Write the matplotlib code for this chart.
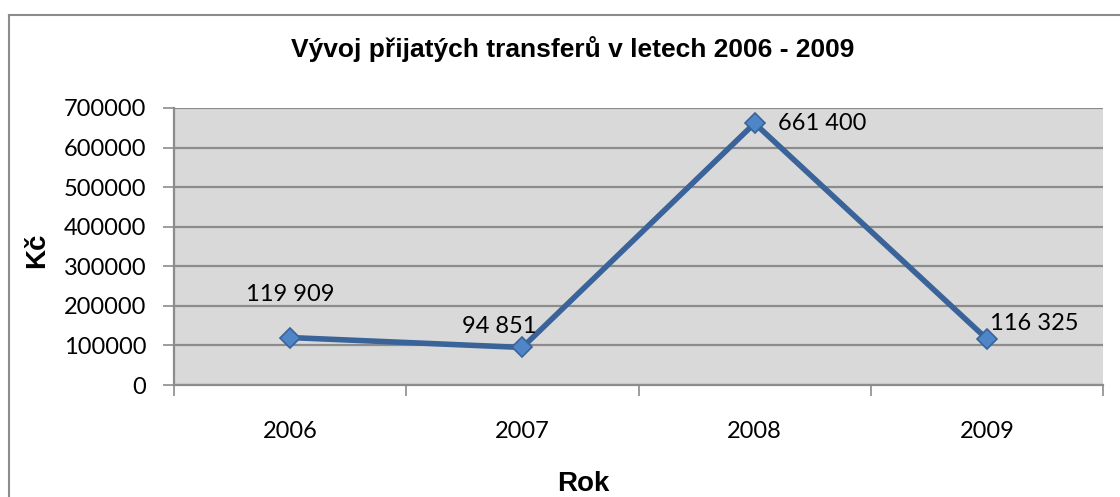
import matplotlib
matplotlib.use("Agg")
import matplotlib.pyplot as plt
from matplotlib.lines import Line2D

years = ["2006", "2007", "2008", "2009"]
values = [119909, 94851, 661400, 116325]
value_labels = ["119 909", "94 851", "661 400", "116 325"]
yticks = [0, 100000, 200000, 300000, 400000, 500000, 600000, 700000]

W, H = 1120, 497
fig = plt.figure(figsize=(W / 100, H / 100), dpi=100)
fig.patch.set_facecolor("white")

# outer border (top and left visible)
fig.add_artist(Line2D([9 / W, 9 / W], [0, 1 - 15 / H], transform=fig.transFigure,
                      color="#8c8c8c", lw=1.5))
fig.add_artist(Line2D([9 / W, 1], [1 - 15 / H, 1 - 15 / H], transform=fig.transFigure,
                      color="#8c8c8c", lw=1.5))

ax = fig.add_axes([174 / W, 1 - 385 / H, (1103 - 174) / W, (385 - 108) / H])
ax.set_facecolor("#d9d9d9")

x = list(range(len(years)))
ax.plot(x, values, color="#3a6399", lw=4.0, marker="D", markersize=10,
        markerfacecolor="#4f86c8", markeredgecolor="#3a6399", markeredgewidth=1.2,
        zorder=3, solid_joinstyle="round")

ax.set_xlim(-0.5, len(years) - 0.5)
ax.set_ylim(0, 700000)
ax.set_yticks(yticks)
ax.set_yticklabels([str(v) for v in yticks])
ax.yaxis.grid(True, color="#8c8c8c", lw=1.6)
ax.set_axisbelow(True)

# category boundaries as major ticks, labels at centers as minor ticks
ax.set_xticks([i - 0.5 for i in range(len(years) + 1)])
ax.set_xticklabels([])
ax.set_xticks(x, minor=True)
ax.set_xticklabels(years, minor=True)
ax.tick_params(axis="x", which="major", length=8, width=1.2, color="#8c8c8c", direction="out")
ax.tick_params(axis="x", which="minor", length=0, pad=26)
ax.tick_params(axis="y", length=8, width=1.2, color="#8c8c8c", direction="out", pad=12)

for lbl in ax.get_xticklabels(minor=True) + ax.get_yticklabels():
    lbl.set_fontfamily("Lato")
    lbl.set_fontsize(17)
    lbl.set_color("black")

for side in ["top", "right"]:
    ax.spines[side].set_visible(False)
for side in ["left", "bottom"]:
    ax.spines[side].set_color("#8c8c8c")
    ax.spines[side].set_linewidth(1.6)

# data labels
offsets = [(0, 43, "center"), (-23, 21, "center"), (23, 0, "left"), (3, 15, "left")]
for xi, v, lab, (dx, dy, ha) in zip(x, values, value_labels, offsets):
    ax.annotate(lab, (xi, v), xytext=(dx, dy), textcoords="offset pixels",
                ha=ha, va="center", fontfamily="Lato", fontsize=17, color="black",
                zorder=4)

fig.text(573 / W, 1 - 49 / H, "Vývoj přijatých transferů v letech 2006 - 2009",
         ha="center", va="center", fontfamily="Liberation Sans", fontweight="bold",
         fontsize=19)
fig.text(583 / W, 1 - 484 / H, "Rok", ha="center", va="center",
         fontfamily="Liberation Sans", fontweight="bold", fontsize=20)
fig.text(37 / W, 1 - 250 / H, "Kč", ha="center", va="center", rotation=90,
         fontfamily="Liberation Sans", fontweight="bold", fontsize=20)

fig.savefig("out.png", dpi=100)
